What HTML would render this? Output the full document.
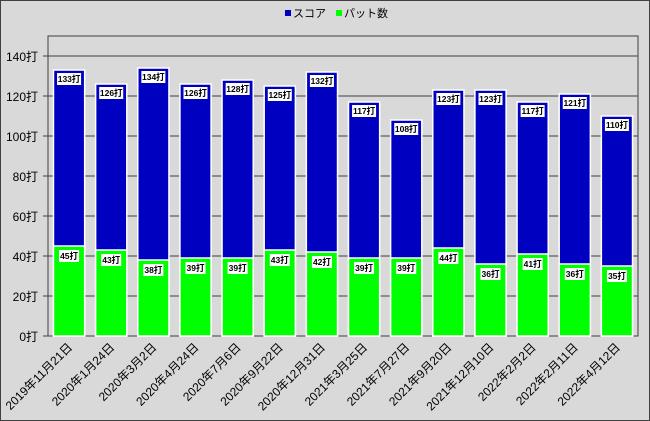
<!DOCTYPE html>
<html><head><meta charset="utf-8"><style>
body{margin:0;background:#d9d9d9}
svg{display:block;font-family:"Liberation Sans","Noto Sans CJK JP",sans-serif}
</style></head><body>
<svg id="c" width="650" height="421" xmlns="http://www.w3.org/2000/svg">
<rect x="0.5" y="0.5" width="649" height="420" fill="#d9d9d9" stroke="#404040"/>
<rect x="285" y="10" width="6" height="6" fill="#0000c0"/>
<text x="293" y="17" font-size="11" fill="#000">スコア</text>
<rect x="336" y="10" width="6" height="6" fill="#00ff00"/>
<text x="344" y="17" font-size="11" fill="#000">パット数</text>
</svg>
<script>
(function(){
const list=[["2019年11月21日",133,45],["2020年1月24日",126,43],["2020年3月2日",134,38],["2020年4月24日",126,39],["2020年7月6日",128,39],["2020年9月22日",125,43],["2020年12月31日",132,42],["2021年3月25日",117,39],["2021年7月27日",108,39],["2021年9月20日",123,44],["2021年12月10日",123,36],["2022年2月2日",117,41],["2022年2月11日",121,36],["2022年4月12日",110,35]];
const s=document.getElementById('c'),NS='http://www.w3.org/2000/svg';
function el(t,a,txt){const e=document.createElementNS(NS,t);for(const k in a)e.setAttribute(k,a[k]);if(txt!=null)e.textContent=txt;s.appendChild(e);return e;}
const L=48,R=638,T=36,B=336,u=2,n=14,w=(R-L)/n;
el('rect',{x:L,y:T,width:R-L,height:B-T,fill:'#d9d9d9',stroke:'#404040','stroke-width':1});
for(let v=0;v<=140;v+=20){const y=B-v*u;el('line',{x1:L-5,x2:R,y1:y,y2:y,stroke:'#404040','stroke-width':1});
el('text',{x:38,y:y+5,'font-size':12,'text-anchor':'end',fill:'#000'},v+'打');}
list.forEach((r,i)=>{
 const cx=L+w*(i+0.5),bw=w*0.74,x=cx-bw/2;
 el('rect',{x:x,y:B-r[1]*u,width:bw,height:r[1]*u,fill:'#0000c0',stroke:'#ffffff','stroke-width':1.5});
 el('rect',{x:x,y:B-r[2]*u,width:bw,height:r[2]*u,fill:'#00ff00',stroke:'#ffffff','stroke-width':1.5});
 [[r[1],B-r[1]*u+9],[r[2],B-r[2]*u+10]].forEach(([v,cy])=>{
  const t=v+'打',tw=t.length>3?24:20;
  el('rect',{x:cx-tw/2,y:cy-6,width:tw,height:12,fill:'#fff'});
  el('text',{x:cx,y:cy+3.2,'font-size':8.5,'font-weight':'bold','text-anchor':'middle',fill:'#000'},t);
 });
 el('text',{x:cx+4,y:B+12,'font-size':12,'text-anchor':'end',fill:'#000',transform:`rotate(-45 ${cx+4} ${B+12})`},r[0]);
});
})();
</script>
</body></html>
